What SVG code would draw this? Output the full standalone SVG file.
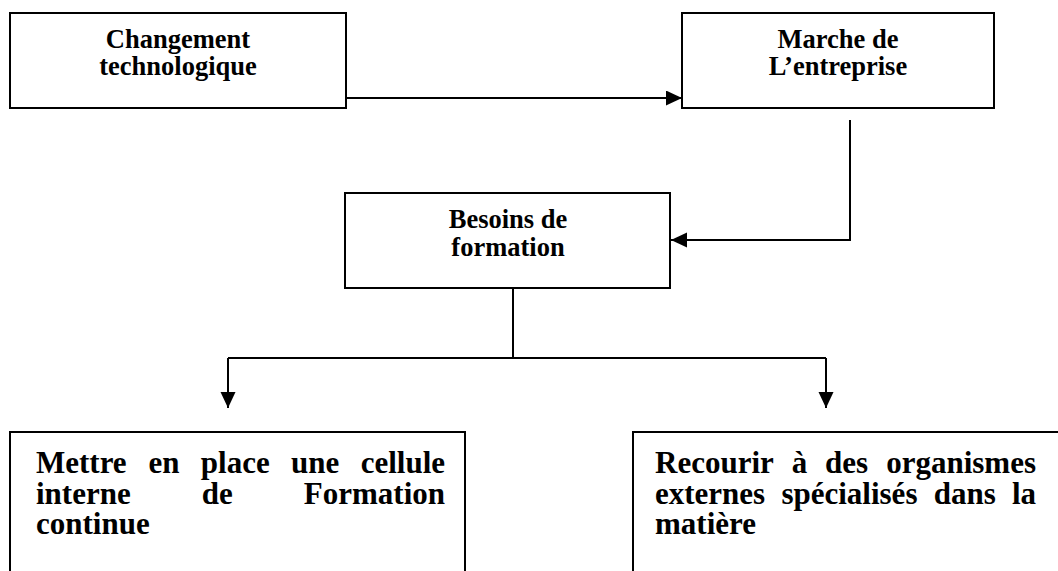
<svg xmlns="http://www.w3.org/2000/svg" width="1058" height="571" viewBox="0 0 1058 571">
  <style>
    .box { fill: #ffffff; stroke: #000000; stroke-width: 2; }
    .link { fill: none; stroke: #000000; stroke-width: 2; }
    .lbl { font-family: "Liberation Serif", "Times New Roman", serif; font-weight: bold; fill: #000000; }
    .small { font-size: 26.5px; text-anchor: middle; }
    .big { font-size: 31px; }
  </style>
  <defs>
    <marker id="arrow" markerUnits="userSpaceOnUse" markerWidth="17" markerHeight="16" refX="16" refY="7.5" orient="auto">
      <path d="M0,0 L16,7.5 L0,15 Z" fill="#000000"/>
    </marker>
  </defs>
  <rect width="1058" height="571" fill="#ffffff"/>

  <g id="connectors">
    <path class="link" d="M346,98 H682" marker-end="url(#arrow)"/>
    <path class="link" d="M850,120 V240 H671" marker-end="url(#arrow)"/>
    <path class="link" d="M513,288 V358"/>
    <path class="link" d="M228,358 H826"/>
    <path class="link" d="M228,358 V408" marker-end="url(#arrow)"/>
    <path class="link" d="M826,358 V408" marker-end="url(#arrow)"/>
  </g>

  <g id="node-changement">
    <rect class="box" x="10" y="13" width="336" height="95"/>
    <text class="lbl small" x="178" y="48">Changement</text>
    <text class="lbl small" x="178" y="75">technologique</text>
  </g>

  <g id="node-marche">
    <rect class="box" x="682" y="13" width="312" height="95"/>
    <text class="lbl small" x="838" y="48">Marche de</text>
    <text class="lbl small" x="838" y="75">L’entreprise</text>
  </g>

  <g id="node-besoins">
    <rect class="box" x="345" y="193" width="325" height="95"/>
    <text class="lbl small" x="508" y="228">Besoins de</text>
    <text class="lbl small" x="508" y="256">formation</text>
  </g>

  <g id="node-interne">
    <rect class="box" x="10" y="432" width="455" height="160"/>
    <text class="lbl big" y="473"><tspan x="36">Mettre</tspan><tspan x="148.5">en</tspan><tspan x="200.8">place</tspan><tspan x="291">une</tspan><tspan x="445" text-anchor="end">cellule</tspan></text>
    <text class="lbl big" y="503.5"><tspan x="36">interne</tspan><tspan x="201.7">de</tspan><tspan x="445" text-anchor="end">Formation</tspan></text>
    <text class="lbl big" x="36" y="534">continue</text>
  </g>

  <g id="node-externe">
    <rect class="box" x="633" y="432" width="440" height="160"/>
    <text class="lbl big" y="473"><tspan x="655">Recourir</tspan><tspan x="791.7">à</tspan><tspan x="825.1">des</tspan><tspan x="1036" text-anchor="end">organismes</tspan></text>
    <text class="lbl big" y="503.5"><tspan x="655">externes</tspan><tspan x="781.4">spécialisés</tspan><tspan x="933.7">dans</tspan><tspan x="1036" text-anchor="end">la</tspan></text>
    <text class="lbl big" x="655" y="534">matière</text>
  </g>
</svg>
